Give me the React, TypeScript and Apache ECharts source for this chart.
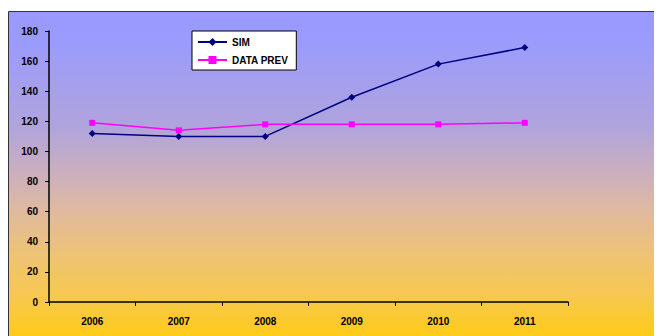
import React, { useEffect, useRef } from "react";
import * as echarts from "echarts";

// Years along the category axis
const years = ["2006", "2007", "2008", "2009", "2010", "2011"];
// Simulated values
const simValues = [112, 110, 110, 136, 158, 169];
// Forecast data values
const dataPrevValues = [119, 114, 118, 118, 118, 119];
// Value axis range
const yMin = 0;
const yMax = 180;
const yStep = 20;

export default function App() {
  const ref = useRef<HTMLDivElement>(null);

  useEffect(() => {
    if (!ref.current) return;
    const chart = echarts.init(ref.current, null, { renderer: "svg" });
    const font = "Arial, 'Liberation Sans', sans-serif";
    chart.setOption({
      animation: false,
      graphic: [
        {
          type: "rect",
          z: -10,
          silent: true,
          shape: { x: 0.5, y: 3.5, width: 700, height: 330 },
          style: {
            fill: new echarts.graphic.LinearGradient(0, 0, 0, 1, [
              { offset: 0, color: "#9999ff" },
              { offset: 0.1, color: "#9b9bfb" },
              { offset: 0.35, color: "#b0a4dc" },
              { offset: 0.5, color: "#cdb0bb" },
              { offset: 0.6, color: "#dfb9a0" },
              { offset: 0.72, color: "#ecc27a" },
              { offset: 0.86, color: "#f7c850" },
              { offset: 1, color: "#ffcc10" },
            ]),
            stroke: "#333333",
            lineWidth: 1,
          },
        },
      ],
      grid: { left: 41, top: 23, right: 94, bottom: 34, containLabel: false },
      legend: {
        orient: "vertical",
        left: 184,
        top: 23,
        padding: [6, 8, 5, 5],
        itemWidth: 29,
        itemHeight: 10,
        itemGap: 8,
        backgroundColor: "#ffffff",
        borderColor: "#000000",
        borderWidth: 1,
        borderRadius: 0,
        textStyle: { fontFamily: font, fontSize: 10, color: "#000000", fontWeight: "bold" },
        data: ["SIM", "DATA PREV"],
      },
      xAxis: {
        type: "category",
        data: years,
        boundaryGap: true,
        axisLine: { lineStyle: { color: "#000000", width: 1.5 } },
        axisTick: { show: true, length: 4, inside: false, lineStyle: { color: "#000000" } },
        axisLabel: { fontFamily: font, fontSize: 10, fontWeight: "bold", color: "#000000", margin: 14 },
        splitLine: { show: false },
      },
      yAxis: {
        type: "value",
        min: yMin,
        max: yMax,
        interval: yStep,
        axisLine: { show: true, lineStyle: { color: "#000000", width: 1.5 } },
        axisTick: { show: true, length: 4, lineStyle: { color: "#000000" } },
        axisLabel: { fontFamily: font, fontSize: 10, fontWeight: "bold", color: "#000000", margin: 11 },
        splitLine: { show: false },
      },
      series: [
        {
          name: "SIM",
          type: "line",
          data: simValues,
          symbol: "diamond",
          symbolSize: 7,
          itemStyle: { color: "#000080" },
          lineStyle: { color: "#000080", width: 1.5 },
        },
        {
          name: "DATA PREV",
          type: "line",
          data: dataPrevValues,
          symbol: "rect",
          symbolSize: 6,
          itemStyle: { color: "#ff00ff" },
          lineStyle: { color: "#ff00ff", width: 1.5 },
        },
      ],
    });
    return () => chart.dispose();
  }, []);

  return <div ref={ref} style={{ width: 654, height: 328 }} />;
}
